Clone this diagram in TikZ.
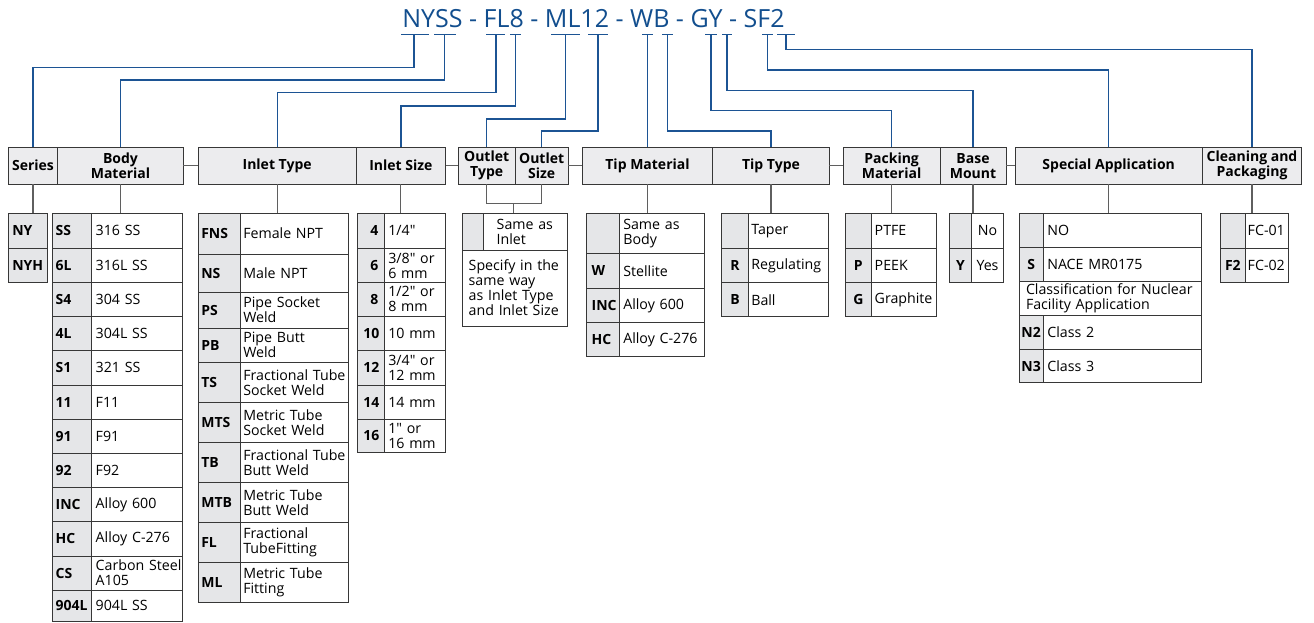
\documentclass[tikz,border=0pt]{standalone}
\usepackage{fontspec}
\setmainfont{Open Sans}[Ligatures=TeXOff]
\definecolor{titleblue}{RGB}{18,78,142}
\definecolor{lineblue}{RGB}{28,84,148}
\definecolor{bordercol}{RGB}{55,55,55}
\definecolor{grayline}{RGB}{95,95,95}
\definecolor{hdrfill}{RGB}{236,236,238}
\definecolor{codefill}{RGB}{229,230,232}
\newcommand\nobreakpen{\hyphenpenalty 10000 \exhyphenpenalty 10000\relax}
\newcommand\mkcell[8][4]{%
  \pgfmathsetmacro\cw{#6-#4}%
  \pgfmathsetmacro\ch{#7-#5}%
  \pgfmathsetmacro\tw{#6-#4-2*#1}%
  \node[#3, anchor=north west, inner xsep=#1pt, inner ysep=0pt, text width=\tw pt,
        minimum width=\cw pt, minimum height=\ch pt] (#2) at (#4,#5) {\nobreakpen#8};}
\newcommand\mkrow[8]{%
  \mkcell[\cpad]{#1c}{code,calign}{#2}{#5}{#3}{#6}{#7}%
  \mkcell[\dpad]{#1d}{desc,dalign}{#3}{#5}{#4}{#6}{#8}}
\newcommand\mkhdr[4]{%
  \pgfmathsetmacro\cw{#3-#2}%
  \node[hdr, minimum width=\cw pt, minimum height=36.7pt] (#1) at (#2,147.3) {#4};}
\begin{document}
\begin{tikzpicture}[x=1pt,y=-1pt,
  hdr/.style={draw=bordercol, fill=hdrfill, line width=1pt,
    font=\bfseries\fontsize{14}{15}\selectfont, align=center,
    inner sep=0pt, outer sep=0pt, anchor=north west},
  code/.style={draw=bordercol, fill=codefill, line width=1pt,
    font=\bfseries\fontsize{14}{15}\selectfont, outer sep=0pt},
  desc/.style={draw=bordercol, fill=white, line width=1pt,
    font=\fontsize{14.2}{15}\selectfont, outer sep=0pt},
  calign/.style={align=left}, dalign/.style={align=left},
  bline/.style={draw=lineblue, line width=1.3pt},
  gline/.style={draw=grayline, line width=1.1pt},
  title/.style={text=titleblue, font=\fontsize{25}{30}\selectfont, inner sep=0pt}]
\useasboundingbox (0,0) rectangle (1314,622);

% title
\node[title] (code) at (593.5,18.5) {NYSS - FL8 - ML12 - WB - GY - SF2};
\foreach \l/\r in {401/429,434/456,486/505,510/521,551/580,588/608,642/653,662/673,705/717,722/732,762/773,777/795}
  \draw[bline] (\l,34.5) -- (\r,34.5);
\coordinate (b1) at (414,34.5);
\coordinate (b2) at (444.5,34.5);
\coordinate (b3) at (496,34.5);
\coordinate (b4) at (515.5,34.5);
\coordinate (b5) at (565.5,34.5);
\coordinate (b6) at (598,34.5);
\coordinate (b7) at (647.5,34.5);
\coordinate (b8) at (667.5,34.5);
\coordinate (b9) at (711,34.5);
\coordinate (b10) at (727,34.5);
\coordinate (b11) at (767.5,34.5);
\coordinate (b12) at (786,34.5);

% headers
\mkhdr{hser}{8.3}{57.7}{Series}
\mkhdr{hbody}{57.7}{183.3}{Body\\Material}
\mkhdr{hitype}{198.3}{356}{Inlet Type}
\mkhdr{hisize}{356}{445.7}{Inlet Size}
\mkhdr{hotype}{458.3}{515}{Outlet\\Type}
\mkhdr{hosize}{515}{568.3}{Outlet\\Size}
\mkhdr{htmat}{582.3}{712.7}{Tip Material}
\mkhdr{httype}{712.7}{829.3}{Tip Type}
\mkhdr{hpack}{843.3}{940}{Packing\\Material}
\mkhdr{hbase}{940}{1006}{Base\\Mount}
\mkhdr{hspec}{1015}{1202.3}{Special Application}
\mkhdr{hclean}{1202.3}{1301.7}{Cleaning and\\Packaging}

% blue connectors
\draw[bline] (b1) -- (b1 |- 0,67.3) -| (hser.north);
\draw[bline] (b2) -- (b2 |- 0,80) -| (hbody.north);
\draw[bline] (b3) -- (b3 |- 0,92.7) -| (hitype.north);
\draw[bline] (b4) -- (b4 |- 0,106) -| (hisize.north);
\draw[bline] (b5) -- (b5 |- 0,119) -| (hotype.north);
\draw[bline] (b6) -- (b6 |- 0,131) -| (hosize.north);
\draw[bline] (b7) -- (b7 |- htmat.north);
\draw[bline] (b8) -- (b8 |- 0,131) -| (httype.north);
\draw[bline] (b9) -- (b9 |- 0,110.7) -| (hpack.north);
\draw[bline] (b10) -- (b10 |- 0,90.7) -| (hbase.north);
\draw[bline] (b11) -- (b11 |- 0,70) -| (hspec.north);
\draw[bline] (b12) -- (b12 |- 0,49.3) -| (hclean.north);

% group links
\draw[gline] (hbody.east) -- (hitype.west);
\draw[gline] (hisize.east) -- (hotype.west);
\draw[gline] (hosize.east) -- (htmat.west);
\draw[gline] (httype.east) -- (hpack.west);
\draw[gline] (hbase.east) -- (hspec.west);

% Series
\mkcell[4]{ny}{code,align=left}{8.3}{213.3}{47.3}{248.3}{NY}
\mkcell[4]{nyh}{code,align=left}{8.3}{248.3}{47.3}{282.3}{NYH}

% Body material
\def\cpad{3}\def\dpad{4}
\mkrow{bm1}{52.7}{91.7}{182.7}{213.3}{248.3}{SS}{316~SS}
\mkrow{bm2}{52.7}{91.7}{182.7}{248.3}{282.3}{6L}{316L~SS}
\mkrow{bm3}{52.7}{91.7}{182.7}{282.3}{316.7}{S4}{304~SS}
\mkrow{bm4}{52.7}{91.7}{182.7}{316.7}{350.7}{4L}{304L~SS}
\mkrow{bm5}{52.7}{91.7}{182.7}{350.7}{385}{S1}{321~SS}
\mkrow{bm6}{52.7}{91.7}{182.7}{385}{419.3}{11}{F11}
\mkrow{bm7}{52.7}{91.7}{182.7}{419.3}{453.3}{91}{F91}
\mkrow{bm8}{52.7}{91.7}{182.7}{453.3}{487.3}{92}{F92}
\mkrow{bm9}{52.7}{91.7}{182.7}{487.3}{521.7}{INC}{Alloy~600}
\mkrow{bm10}{52.7}{91.7}{182.7}{521.7}{556}{HC}{Alloy~C-276}
\mkrow{bm11}{52.7}{91.7}{182.7}{556}{590}{CS}{Carbon~Steel\\A105}
\mkrow{bm12}{52.7}{91.7}{182.7}{590}{621}{904L}{904L~SS}

% Inlet type
\def\cpad{3}\def\dpad{3}
\mkrow{it1}{198.3}{240.3}{348}{213.3}{254}{FNS}{Female~NPT}
\mkrow{it2}{198.3}{240.3}{348}{254}{292}{NS}{Male~NPT}
\mkrow{it3}{198.3}{240.3}{348}{292}{328}{PS}{Pipe~Socket\\Weld}
\mkrow{it4}{198.3}{240.3}{348}{328}{362.3}{PB}{Pipe~Butt\\Weld}
\mkrow{it5}{198.3}{240.3}{348}{362.3}{402.7}{TS}{Fractional~Tube\\Socket~Weld}
\mkrow{it6}{198.3}{240.3}{348}{402.7}{442.7}{MTS}{Metric~Tube\\Socket~Weld}
\mkrow{it7}{198.3}{240.3}{348}{442.7}{482.7}{TB}{Fractional~Tube\\Butt~Weld}
\mkrow{it8}{198.3}{240.3}{348}{482.7}{522.7}{MTB}{Metric~Tube\\Butt~Weld}
\mkrow{it9}{198.3}{240.3}{348}{522.7}{562.7}{FL}{Fractional\\TubeFitting}
\mkrow{it10}{198.3}{240.3}{348}{562.7}{602.7}{ML}{Metric~Tube\\Fitting}

% Inlet size
\tikzset{calign/.style={align=right}}
\def\cpad{6}\def\dpad{4}
\mkrow{is1}{357.3}{384.3}{445.7}{213.3}{248.3}{4}{1/4"}
\mkrow{is2}{357.3}{384.3}{445.7}{248.3}{282.7}{6}{3/8"~or\\6~mm}
\mkrow{is3}{357.3}{384.3}{445.7}{282.7}{316}{8}{1/2"~or\\8~mm}
\mkrow{is4}{357.3}{384.3}{445.7}{316}{350.7}{10}{10~mm}
\mkrow{is5}{357.3}{384.3}{445.7}{350.7}{385}{12}{3/4"~or\\12~mm}
\mkrow{is6}{357.3}{384.3}{445.7}{385}{419.3}{14}{14~mm}
\mkrow{is7}{357.3}{384.3}{445.7}{419.3}{452.7}{16}{1"~or\\16~mm}

% Outlet
\mkcell[3]{o1c}{code,align=left}{462.7}{213.3}{483.7}{250}{}
\mkcell[13]{o1d}{desc,align=left}{483.7}{213.3}{567}{250}{Same~as\\Inlet}
\mkcell[6]{o2}{desc,align=left}{462.7}{250}{567}{326}{Specify~in~the\\same~way\\as~Inlet~Type\\and~Inlet~Size}

% Tip material
\tikzset{calign/.style={align=left}}
\def\cpad{5}\def\dpad{4}
\mkrow{tm1}{586.7}{619.3}{704.3}{213.3}{253.3}{}{Same~as\\Body}
\mkrow{tm2}{586.7}{619.3}{704.3}{253.3}{288.3}{W}{Stellite}
\mkrow{tm3}{586.7}{619.3}{704.3}{288.3}{322.7}{INC}{Alloy~600}
\mkrow{tm4}{586.7}{619.3}{704.3}{322.7}{356}{HC}{Alloy~C-276}

% Tip type
\tikzset{calign/.style={align=center}}
\def\cpad{2}\def\dpad{3}
\mkrow{tt1}{721.7}{748.3}{828.3}{213.3}{248.3}{}{Taper}
\mkrow{tt2}{721.7}{748.3}{828.3}{248.3}{282.7}{R}{Regulating}
\mkrow{tt3}{721.7}{748.3}{828.3}{282.7}{316.7}{B}{Ball}

% Packing
\mkrow{pm1}{845}{871.7}{936.7}{213.3}{248.3}{}{PTFE}
\mkrow{pm2}{845}{871.7}{936.7}{248.3}{282.7}{P}{PEEK}
\mkrow{pm3}{845}{871.7}{936.7}{282.7}{316.7}{G}{Graphite}

% Base mount
\tikzset{dalign/.style={align=center}}
\mkrow{ba1}{949.3}{971.7}{1003.3}{213.3}{248.3}{}{No}
\mkrow{ba2}{949.3}{971.7}{1003.3}{248.3}{282.7}{Y}{Yes}

% Special application
\tikzset{dalign/.style={align=left}}
\def\cpad{1}\def\dpad{4}
\mkrow{sa1}{1019}{1043.3}{1201.7}{213.3}{247.7}{}{NO}
\mkrow{sa2}{1019}{1043.3}{1201.7}{247.7}{281.7}{S}{NACE~MR0175}
\mkcell[7]{sa3}{desc,align=left}{1019}{281.7}{1201.7}{315}{Classification~for~Nuclear\\Facility~Application}
\mkrow{sa4}{1019}{1043.3}{1201.7}{315}{349.3}{N2}{Class~2}
\mkrow{sa5}{1019}{1043.3}{1201.7}{349.3}{382.7}{N3}{Class~3}

% Cleaning
\def\cpad{2}\def\dpad{2}
\mkrow{cp1}{1220}{1245.7}{1288.3}{213.3}{248.3}{}{FC-01}
\mkrow{cp2}{1220}{1245.7}{1288.3}{248.3}{282.3}{F2}{FC-02}

% drops from headers to tables
\draw[gline] (hser.south) -- (hser.south |- ny.north);
\draw[gline] (hbody.south) -- (hbody.south |- bm1c.north);
\draw[gline] (hitype.south) -- (hitype.south |- it1c.north);
\draw[gline] (hisize.south) -- (hisize.south |- is1c.north);
\coordinate (oj) at (513.3,203.3);
\draw[gline] (hotype.south) -- (hotype.south |- oj) -| (hosize.south);
\draw[gline] (oj) -- (oj |- o1c.north);
\draw[gline] (htmat.south) -- (htmat.south |- tm1c.north);
\draw[gline] (httype.south) -- (httype.south |- tt1c.north);
\draw[gline] (hpack.south) -- (hpack.south |- pm1c.north);
\draw[gline] (hbase.south) -- (hbase.south |- ba1c.north);
\draw[gline] (hspec.south) -- (hspec.south |- sa1c.north);
\draw[gline] (hclean.south) -- (hclean.south |- cp1c.north);
\end{tikzpicture}
\end{document}
